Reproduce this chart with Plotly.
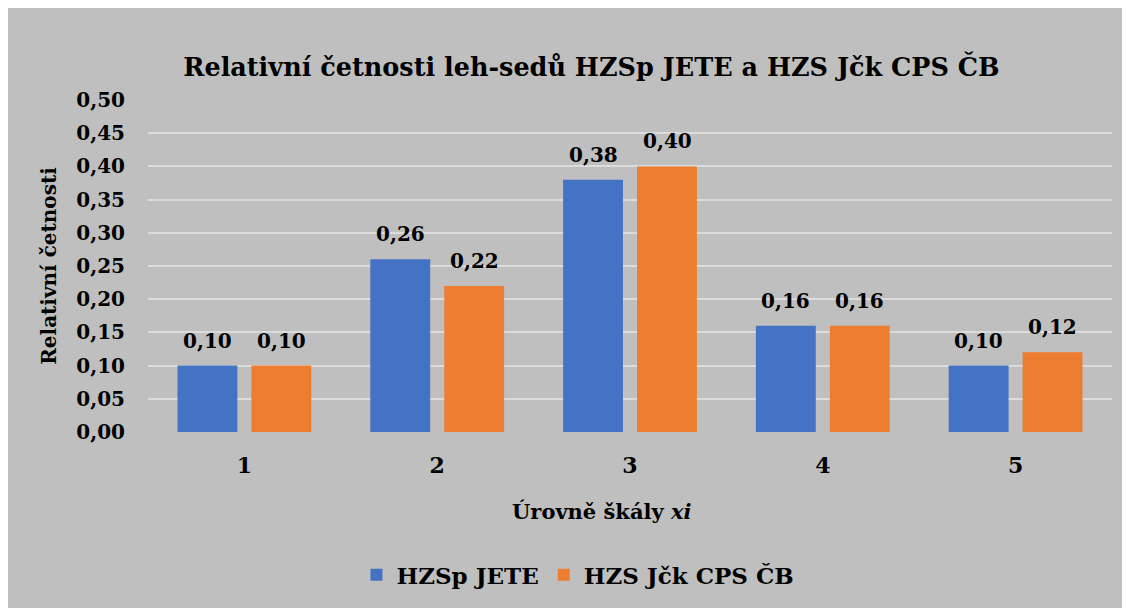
import plotly.graph_objects as go

categories = ["1", "2", "3", "4", "5"]
series_names = ["HZSp JETE", "HZS Jčk CPS ČB"]
jete_values = [0.10, 0.26, 0.38, 0.16, 0.10]
cps_values = [0.10, 0.22, 0.40, 0.16, 0.12]
colors = ["#4472C4", "#ED7D31"]
y_ticks = [0.0, 0.05, 0.10, 0.15, 0.20, 0.25, 0.30, 0.35, 0.40, 0.45, 0.50]

title_text = "Relativní četnosti leh-sedů HZSp JETE a HZS Jčk CPS ČB"
x_title = "Úrovně škály <i>xi</i>"
y_title = "Relativní četnosti"

FONT = "DejaVu Serif"
BG = "#BFBFBF"


def f(size):
    return dict(family=FONT, size=size, color="black", weight="bold")


fig = go.Figure()
for name, vals, col in zip(series_names, [jete_values, cps_values], colors):
    fig.add_trace(go.Bar(
        x=categories, y=vals, name=name,
        marker=dict(color=col, line=dict(width=0)),
    ))

annotations = []
for vals, shift in zip([jete_values, cps_values], [-37, 37]):
    for i, v in enumerate(vals):
        annotations.append(dict(
            x=i, y=v, xref="x", yref="y", text=f"{v:.2f}".replace(".", ","),
            showarrow=False, xshift=shift, yshift=11, yanchor="bottom", font=f(20),
        ))
annotations.append(dict(
    x=0.471, y=-0.238, xref="paper", yref="paper", text=x_title, showarrow=False,
    xanchor="center", yanchor="middle", font=f(21),
))

fig.update_layout(
    width=1122, height=600,
    margin=dict(l=140, r=18, t=92, b=172),
    paper_bgcolor=BG,
    plot_bgcolor=BG,
    font=dict(family=FONT, color="black"),
    title=dict(text=title_text, x=0.46, xref="paper", xanchor="center",
               y=1 - 59 / 600, yanchor="middle", font=f(25.5)),
    barmode="group",
    bargap=0.233,
    bargroupgap=0.19,
    separators=", ",
    showlegend=True,
    legend=dict(orientation="h", x=0.446, xanchor="center", y=-0.43, yanchor="middle",
                font=f(23), bgcolor="rgba(0,0,0,0)"),
    annotations=annotations,
)
fig.update_xaxes(
    type="category",
    showgrid=False, showline=False, ticks="", ticklabelstandoff=18,
    tickfont=f(22),
)
fig.update_yaxes(
    range=[0, 0.5], tickvals=y_ticks, tickformat=".2f",
    showgrid=True, gridcolor="#DCDCDC", gridwidth=2, zeroline=False, showline=False,
    ticks="", ticklabelstandoff=22,
    tickfont=f(20),
    title=dict(text=y_title, standoff=14, font=f(20)),
)

fig.write_html("out.html")
